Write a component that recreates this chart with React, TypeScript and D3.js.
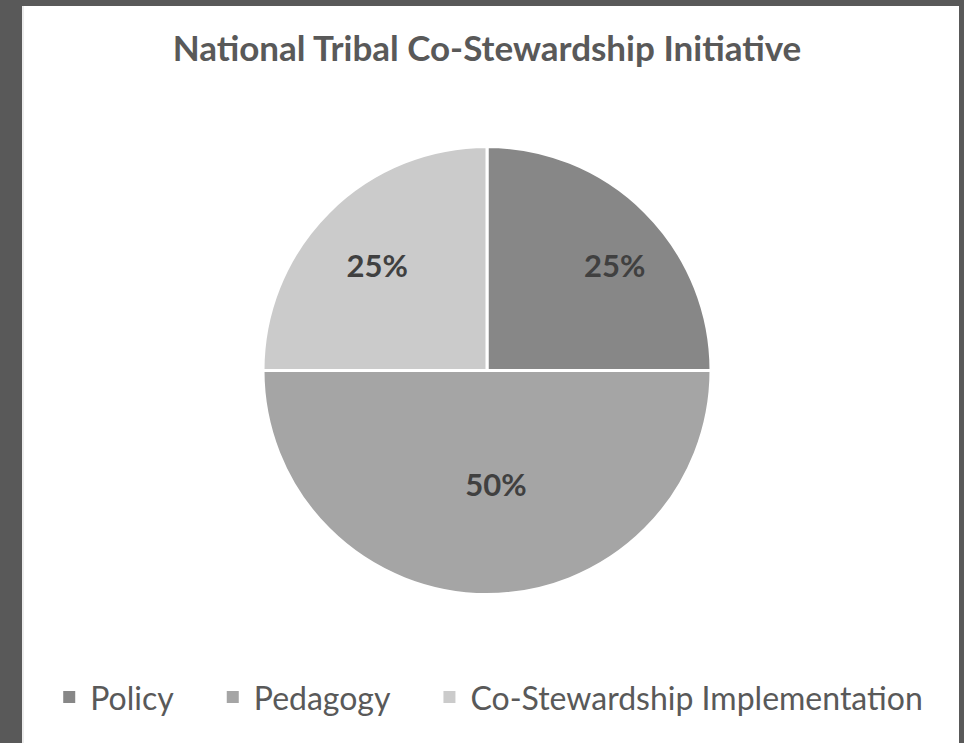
import React, { useEffect, useRef } from "react";
import * as d3 from "d3";

const categories = ["Policy", "Pedagogy", "Co-Stewardship Implementation"];
const values = [25, 50, 25];
const colors = ["#878787", "#a5a5a5", "#cbcbcb"];
const title = "National Tribal Co-Stewardship Initiative";

const W = 964;
const H = 743;

export default function App() {
  const ref = useRef<SVGSVGElement>(null);

  useEffect(() => {
    const svg = d3.select(ref.current);
    svg.selectAll("*").remove();

    // frame
    svg.append("rect").attr("x", 0).attr("y", 0).attr("width", W).attr("height", H).attr("fill", "#595959");
    svg.append("rect").attr("x", 22).attr("y", 6).attr("width", 937).attr("height", H - 6).attr("fill", "#ffffff");
    svg.append("rect").attr("x", 22).attr("y", 6).attr("width", 2).attr("height", H - 6).attr("fill", "#ececec");

    const font = "Lato, 'Open Sans', sans-serif";

    // title
    svg.append("text")
      .attr("x", 487).attr("y", 61)
      .attr("text-anchor", "middle")
      .attr("font-family", font)
      .attr("font-weight", 700)
      .attr("font-size", 35)
      .attr("fill", "#595959")
      .text(title);

    // pie
    const cx = 487, cy = 370.5, r = 224;
    const total = d3.sum(values);
    const pie = d3.pie<number>().sort(null).value((d) => d);
    const arcs = pie(values);
    const arc = d3.arc<d3.PieArcDatum<number>>().innerRadius(0).outerRadius(r);

    const g = svg.append("g").attr("transform", `translate(${cx},${cy})`);
    g.selectAll("path.slice")
      .data(arcs)
      .enter()
      .append("path")
      .attr("class", "slice")
      .attr("d", arc)
      .attr("fill", (_, i) => colors[i])
      .attr("stroke", "#ffffff")
      .attr("stroke-width", 3)
      .attr("stroke-linejoin", "miter");

    g.selectAll("text.lbl")
      .data(arcs)
      .enter()
      .append("text")
      .attr("class", "lbl")
      .attr("transform", (d) => {
        const span = d.endAngle - d.startAngle;
        const lr = span > Math.PI * 0.75 ? r * 0.45 : r * 0.75;
        const la = d3.arc<d3.PieArcDatum<number>>().innerRadius(lr).outerRadius(lr);
        const [x, y] = la.centroid(d);
        return `translate(${x + 9},${y + 13})`;
      })
      .attr("text-anchor", "middle")
      .attr("dominant-baseline", "central")
      .attr("font-family", font)
      .attr("font-weight", 700)
      .attr("font-size", 31)
      .attr("fill", "#404040")
      .text((d) => `${Math.round((d.value / total) * 100)}%`);

    // legend
    const lg = svg.append("g");
    const sq = 12, sqGap = 15, itemGap = 53;
    let x = 0;
    categories.forEach((c, i) => {
      const item = lg.append("g").attr("transform", `translate(${x},0)`);
      item.append("rect").attr("x", 0).attr("y", -sq / 2).attr("width", sq).attr("height", sq).attr("fill", colors[i]);
      const t = item.append("text")
        .attr("x", sq + sqGap)
        .attr("y", 0)
        .attr("dominant-baseline", "central")
        .attr("font-family", font)
        .attr("font-size", 32)
        .attr("fill", "#595959")
        .text(c);
      const tw = (t.node() as SVGTextElement).getComputedTextLength();
      x += sq + sqGap + tw + itemGap;
    });
    const totalW = x - itemGap;
    lg.attr("transform", `translate(${493 - totalW / 2},697)`);
  }, []);

  return (
    <svg
      ref={ref}
      width={W}
      height={H}
      style={{ position: "absolute", left: 0, top: 0, display: "block" }}
    />
  );
}
